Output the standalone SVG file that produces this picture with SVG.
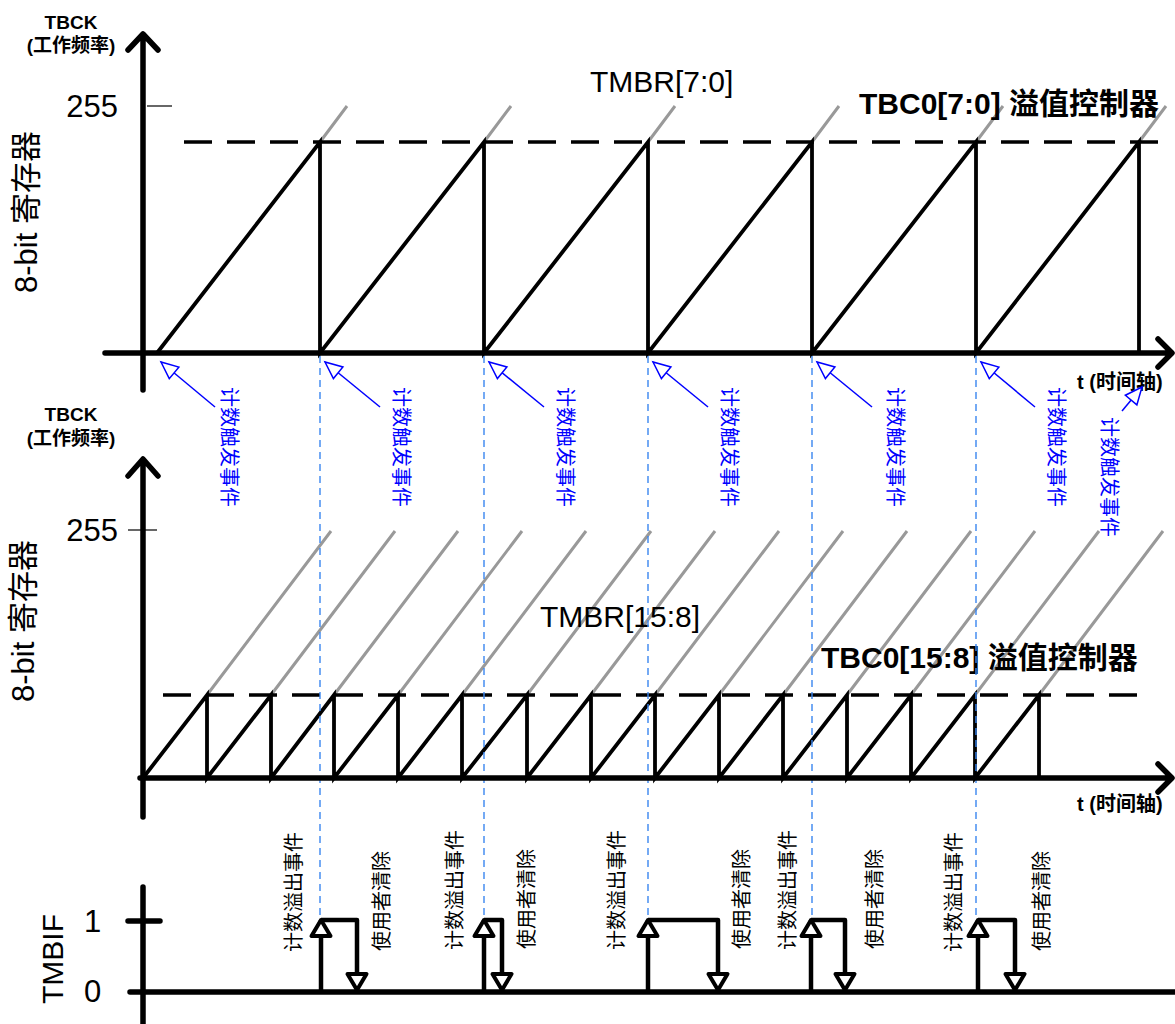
<svg xmlns="http://www.w3.org/2000/svg" width="1175" height="1024" viewBox="0 0 1175 1024">
<defs>
<style>
 .axis{stroke:#000;stroke-width:5.5;fill:none;stroke-linecap:round;stroke-linejoin:round}
 .saw{stroke:#000;stroke-width:3.8;fill:none;stroke-linejoin:miter}
 .dash{stroke:#000;stroke-width:3.5;stroke-dasharray:28 15;fill:none}
 .gray{stroke:#999;stroke-width:3;fill:none}
 .tick{stroke:#000;stroke-width:1.2;fill:none}
 .guide{stroke:#3a86f0;stroke-width:1.4;stroke-dasharray:7 5;fill:none}
 .barrow{stroke:#0000ff;stroke-width:1.5;fill:none;marker-end:url(#openBlue)}
 .pulse{stroke:#000;stroke-width:4.5;fill:none;stroke-linejoin:round;marker-end:url(#pulseHead)}
 text{font-family:"Liberation Sans","Noto Sans CJK SC",sans-serif;fill:#000}
 .num{font-size:31px}
 .title{font-size:30px}
 .bt{font-size:30px;font-weight:bold}
 .axlab{font-size:19px;font-weight:bold;text-anchor:middle}
 .tl{font-size:20px;font-weight:bold}
 .evt{font-size:20px;fill:#0000ff;font-family:"Noto Sans CJK SC",sans-serif;text-anchor:middle;dominant-baseline:central}
 .lbl{font-size:20px;font-family:"Noto Sans CJK SC",sans-serif;text-anchor:middle;dominant-baseline:central}
</style>
<marker id="openBlue" markerUnits="userSpaceOnUse" markerWidth="24" markerHeight="20" viewBox="-20 -10 24 20" refX="0" refY="0" orient="auto">
 <path d="M0,0 L-17,-7.5 L-17,7.5 Z" fill="#fff" stroke="#0000ff" stroke-width="1.5"/>
</marker>
<marker id="pulseHead" markerUnits="userSpaceOnUse" markerWidth="30" markerHeight="30" viewBox="-24 -15 30 30" refX="0" refY="0" orient="auto">
 <path d="M0,0 L-16,-9.5 L-16,9.5 Z" fill="#fff" stroke="#000" stroke-width="4" stroke-linejoin="round"/>
</marker>
</defs>
<rect width="1175" height="1024" fill="#fff"/>

<g id="top-chart">
 <path class="gray" d="M320,142 l27,-36 M484,142 l27,-36 M648,142 l27,-36 M812,142 l27,-36 M976,142 l27,-36 M1139,142 l27,-36"/>
 <path class="dash" d="M184,142 H1166"/>
 <polyline class="saw" points="157,353 320,142 320,353 484,142 484,353 648,142 648,353 812,142 812,353 976,142 976,353 1139,142 1139,353"/>
 <path class="tick" d="M147,106 H172"/>
 <text class="num" x="118" y="117" text-anchor="end">255</text>
 <text class="axlab" x="71" y="29">TBCK</text>
 <text class="axlab" x="71" y="52">(工作频率)</text>
 <text class="num" transform="translate(37,212) rotate(-90)" text-anchor="middle">8-bit 寄存器</text>
 <text class="title" x="590" y="92">TMBR[7:0]</text>
 <text class="bt" x="859" y="114">TBC0[7:0] 溢值控制器</text>
 <text class="tl" x="1077" y="389">t (时间轴)</text>
</g>

<g id="middle-chart">
 <path class="gray" d="M207,695 l124,-164 M271,695 l124,-164 M334,695 l124,-164 M398,695 l124,-164 M462,695 l124,-164 M527,695 l124,-164 M591,695 l124,-164 M655,695 l124,-164 M719,695 l124,-164 M783,695 l124,-164 M847,695 l124,-164 M911,695 l124,-164 M975,695 l124,-164 M1039,695 l124,-164"/>
 <path class="dash" d="M163,695 H1146"/>
 <polyline class="saw" points="143,778 207,695 207,778 271,695 271,778 334,695 334,778 398,695 398,778 462,695 462,778 527,695 527,778 591,695 591,778 655,695 655,778 719,695 719,778 783,695 783,778 847,695 847,778 911,695 911,778 975,695 975,778 1039,695 1039,778"/>
 <path class="tick" d="M128,530 H157"/>
 <text class="num" x="118" y="541" text-anchor="end">255</text>
 <text class="axlab" x="71" y="421">TBCK</text>
 <text class="axlab" x="71" y="445">(工作频率)</text>
 <text class="num" transform="translate(34,621) rotate(-90)" text-anchor="middle">8-bit 寄存器</text>
 <text class="title" x="540" y="627">TMBR[15:8]</text>
 <text class="bt" x="821" y="668">TBC0[15:8] 溢值控制器</text>
 <text class="tl" x="1077" y="811">t (时间轴)</text>
</g>

<g id="guides">
 <path class="guide" d="M320,356 V918 M484,356 V918 M648,356 V918 M812,356 V918 M976,356 V918"/>
</g>

<g id="axes">
 <path class="axis" d="M143,390 V36 M128,50 L143,34 L158,50"/>
 <path class="axis" d="M105,353 H1170 M1158,339 L1172,353 L1158,367"/>
 <path class="axis" d="M143,817 V461 M128,476 L143,459 L158,476"/>
 <path class="axis" d="M140,778 H1170 M1158,764 L1172,778 L1158,792"/>
 <path class="axis" d="M143,887 V1026 M130,992 H1178 M128,921 H160"/>
</g>

<g id="trigger-events">
 <path class="barrow" d="M215,407 L161,362"/>
 <path class="barrow" d="M380,407 L325,362"/>
 <path class="barrow" d="M544,407 L489,362"/>
 <path class="barrow" d="M708,407 L653,362"/>
 <path class="barrow" d="M872,407 L817,362"/>
 <path class="barrow" d="M1035,407 L981,362"/>
 <path class="barrow" d="M1122,411 L1142,387"/>
 <text class="evt" transform="translate(230,447) rotate(90)">计数触发事件</text>
 <text class="evt" transform="translate(402,447) rotate(90)">计数触发事件</text>
 <text class="evt" transform="translate(566,447) rotate(90)">计数触发事件</text>
 <text class="evt" transform="translate(730,447) rotate(90)">计数触发事件</text>
 <text class="evt" transform="translate(896,447) rotate(90)">计数触发事件</text>
 <text class="evt" transform="translate(1057,447) rotate(90)">计数触发事件</text>
 <text class="evt" transform="translate(1110,477) rotate(90)">计数触发事件</text>
</g>

<g id="tmbif-chart">
 <text class="num" x="84" y="932">1</text>
 <text class="num" x="84" y="1002">0</text>
 <text class="title" transform="translate(63,959) rotate(-90)" text-anchor="middle">TMBIF</text>
 <path class="pulse" d="M321,920 H357 V990"/>
 <path class="pulse" d="M321,992 V920"/>
 <path class="pulse" d="M484,920 H502 V990"/>
 <path class="pulse" d="M484,992 V920"/>
 <path class="pulse" d="M648,920 H718 V990"/>
 <path class="pulse" d="M648,992 V920"/>
 <path class="pulse" d="M811,920 H845 V990"/>
 <path class="pulse" d="M811,992 V920"/>
 <path class="pulse" d="M978,920 H1015 V990"/>
 <path class="pulse" d="M978,992 V920"/>
 <text class="lbl" transform="translate(292,892) rotate(-90)">计数溢出事件</text>
 <text class="lbl" transform="translate(380,901) rotate(-90)">使用者清除</text>
 <text class="lbl" transform="translate(453,890) rotate(-90)">计数溢出事件</text>
 <text class="lbl" transform="translate(525,899) rotate(-90)">使用者清除</text>
 <text class="lbl" transform="translate(615,890) rotate(-90)">计数溢出事件</text>
 <text class="lbl" transform="translate(740,899) rotate(-90)">使用者清除</text>
 <text class="lbl" transform="translate(786,890) rotate(-90)">计数溢出事件</text>
 <text class="lbl" transform="translate(873,899) rotate(-90)">使用者清除</text>
 <text class="lbl" transform="translate(952,892) rotate(-90)">计数溢出事件</text>
 <text class="lbl" transform="translate(1040,901) rotate(-90)">使用者清除</text>
</g>
</svg>
